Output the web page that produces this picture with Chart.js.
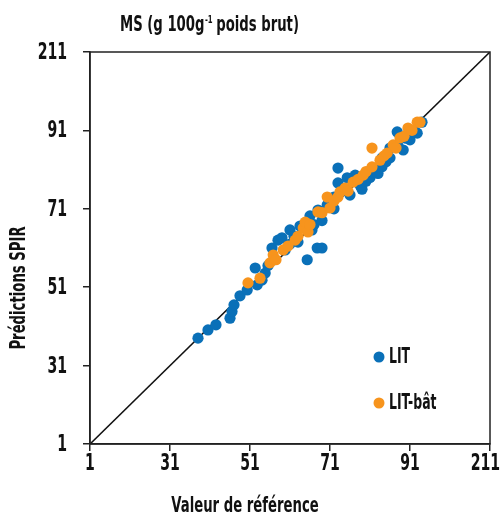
<!DOCTYPE html>
<html>
<head>
<meta charset="utf-8">
<script src="https://cdn.jsdelivr.net/npm/chart.js@4/dist/chart.umd.min.js"></script>
<style>
html,body{margin:0;padding:0;background:#fff;}
#wrap{width:501px;height:521px;}
</style>
</head>
<body>
<div id="wrap"><canvas id="c" width="501" height="521"></canvas></div>
<script>
const tickValues = [11, 31, 51, 71, 91, 111];
const tickLabels = ['1', '31', '51', '71', '91', '211'];
const seriesNames = ['LIT', 'LIT-bât'];
const lineXY = [11, 111];

const litX = [38,40.5,42.5,46,46.5,47,48.5,50.3,52.8,54,52.3,54.8,55.5,57,56.5,58,59,59.8,61,61,62,63.5,63,65.3,67.8,69,66,68,70.3,66.5,67,69,71,72,73,73,72,75.3,74.8,76,77.3,78.5,79,80,81,82,84,84,83,85,86,87.8,89.3,88,91,92.8,94,90,92,86];
const litY = [38,40.1,41.4,43.1,44.8,46.5,48.8,50.3,51.6,52.8,55.9,54.6,56.5,58,61,63,63.6,60.5,62,65.6,64,66.6,62.5,58,61,61,69.2,70.7,72,65.6,67,68,73.2,71,77.6,81.4,74,78.9,75.8,74.5,79.6,77,76,78,79,81,81.7,84,80,83,84,90.6,86,87,88.6,90.3,93.1,89,91,86.5];

const batX = [50.5,53.5,56,56.8,57.5,59.3,60.5,62.3,63,64.3,65.5,64.8,66,68,69,70.3,71,72,73,73.5,74.8,75.5,76.8,78,79.3,80,81.5,81.5,83.5,84.5,85.3,86.8,87.5,88.5,89.5,90.5,92.8,93.5,91.5];
const batY = [52.1,53.3,57.2,59.2,58,60.5,61.5,63,64,66.1,65.1,67.6,67,70.2,70,74,71.2,73,74,75.3,76.3,75.5,77.8,78.5,79.6,80.5,81.7,86.5,83.4,84.5,85.2,87.3,86.5,89.1,89.5,91.6,93.1,93.1,91];

const BLUE = '#0a70b8';
const ORANGE = '#f7941d';
const FONT = "'DejaVu Sans', sans-serif";
const WEIGHT = 'bold condensed';

function pts(xs, ys){ return xs.map((x,i)=>({x:x, y:ys[i]})); }

// draw text squeezed horizontally; alignment handled manually
function squeezeText(ctx, text, x, y, sx, align, maxRight){
  const w = ctx.measureText(text).width * sx;
  let x0 = x;
  if (align === 'center') x0 = x - w / 2;
  else if (align === 'right') x0 = x - w;
  if (maxRight !== undefined && x0 + w > maxRight) x0 = maxRight - w;
  ctx.save();
  ctx.textAlign = 'left';
  ctx.translate(x0, y);
  ctx.scale(sx, 1);
  ctx.fillText(text, 0, 0);
  ctx.restore();
  return w;
}

const decor = {
  id: 'decor',
  afterDraw(chart){
    const ctx = chart.ctx, a = chart.chartArea;
    const xs = chart.scales.x, ys = chart.scales.y;
    ctx.save();
    ctx.strokeStyle = '#222';
    ctx.lineWidth = 1.5;
    ctx.strokeRect(a.left, a.top, a.right - a.left, a.bottom - a.top);
    ctx.fillStyle = '#111';
    ctx.textBaseline = 'middle';
    // tick labels, positioned by the library's scales
    ctx.font = WEIGHT + ' 23px ' + FONT;
    xs.ticks.forEach((t) => {
      const lbl = tickLabels[tickValues.indexOf(t.value)];
      squeezeText(ctx, lbl, xs.getPixelForValue(t.value), a.bottom + 20, 0.68, 'center', chart.width - 1);
    });
    ys.ticks.forEach((t) => {
      const lbl = tickLabels[tickValues.indexOf(t.value)];
      squeezeText(ctx, lbl, a.left - 23, ys.getPixelForValue(t.value) + 1, 0.68, 'right');
    });
    const SX = 0.7;
    // title with superscript
    ctx.textBaseline = 'alphabetic';
    let x = a.left + 30, y = 31;
    ctx.font = WEIGHT + ' 21px ' + FONT;
    x += squeezeText(ctx, 'MS (g 100g', x, y, SX, 'left');
    ctx.font = WEIGHT + ' 11px ' + FONT;
    x += squeezeText(ctx, '-1', x + 0.5, y - 8, SX, 'left') + 4;
    ctx.font = WEIGHT + ' 21px ' + FONT;
    squeezeText(ctx, 'poids brut)', x, y, SX, 'left');
    // x axis title
    ctx.textBaseline = 'middle';
    ctx.font = WEIGHT + ' 21px ' + FONT;
    squeezeText(ctx, 'Valeur de référence', a.left + 155, 507, SX, 'center');
    // y axis title
    ctx.save();
    ctx.translate(20, a.top + 236);
    ctx.rotate(-Math.PI/2);
    squeezeText(ctx, 'Prédictions SPIR', 0, 0, SX, 'center');
    ctx.restore();
    // legend
    const ds = chart.data.datasets.filter(d => d.type !== 'line');
    ds.forEach((d, i) => {
      const ly = a.top + 305 + i * 46;
      const lx = a.left + 289;
      ctx.beginPath();
      ctx.arc(lx, ly, 5.5, 0, Math.PI*2);
      ctx.fillStyle = d.backgroundColor;
      ctx.fill();
      ctx.fillStyle = '#111';
      ctx.font = WEIGHT + ' 21px ' + FONT;
      squeezeText(ctx, d.label, lx + 10, ly + 1, 0.66, 'left');
    });
    ctx.restore();
  }
};

new Chart(document.getElementById('c'), {
  type: 'scatter',
  data: {
    datasets: [
      {type:'line', label:'1:1', data: pts(lineXY, lineXY), borderColor:'#111', borderWidth:1.6, pointRadius:0, fill:false, order:3},
      {label: seriesNames[0], data: pts(litX, litY), backgroundColor: BLUE, borderColor: BLUE, pointRadius: 5.6, pointHoverRadius: 5.6, borderWidth:0, order:2},
      {label: seriesNames[1], data: pts(batX, batY), backgroundColor: ORANGE, borderColor: ORANGE, pointRadius: 5.6, pointHoverRadius: 5.6, borderWidth:0, order:1}
    ]
  },
  options: {
    responsive: false,
    animation: false,
    devicePixelRatio: 1,
    layout: {padding: {left: 0, right: 11, top: 52, bottom: 0}},
    plugins: {legend: {display:false}, tooltip: {enabled:false}, title: {display:false}},
    scales: {
      x: {
        type: 'linear', min: 11, max: 111,
        afterBuildTicks: s => { s.ticks = tickValues.map(v => ({value: v})); },
        afterFit: s => { s.height = 77; s.paddingLeft = 0; s.paddingRight = 0; },
        ticks: {display: false, callback: v => tickLabels[tickValues.indexOf(v)]},
        grid: {drawOnChartArea: false, drawTicks: true, tickLength: 7, color: '#222', lineWidth: 1.5},
        border: {display: true, color: '#222', width: 1.5}
      },
      y: {
        type: 'linear', min: 11, max: 111,
        afterBuildTicks: s => { s.ticks = tickValues.map(v => ({value: v})); },
        afterFit: s => { s.width = 90; s.paddingTop = 0; s.paddingBottom = 0; },
        ticks: {display: false, callback: v => tickLabels[tickValues.indexOf(v)]},
        grid: {drawOnChartArea: false, drawTicks: true, tickLength: 7, color: '#222', lineWidth: 1.5},
        border: {display: true, color: '#222', width: 1.5}
      }
    }
  },
  plugins: [decor]
});
</script>
</body>
</html>
